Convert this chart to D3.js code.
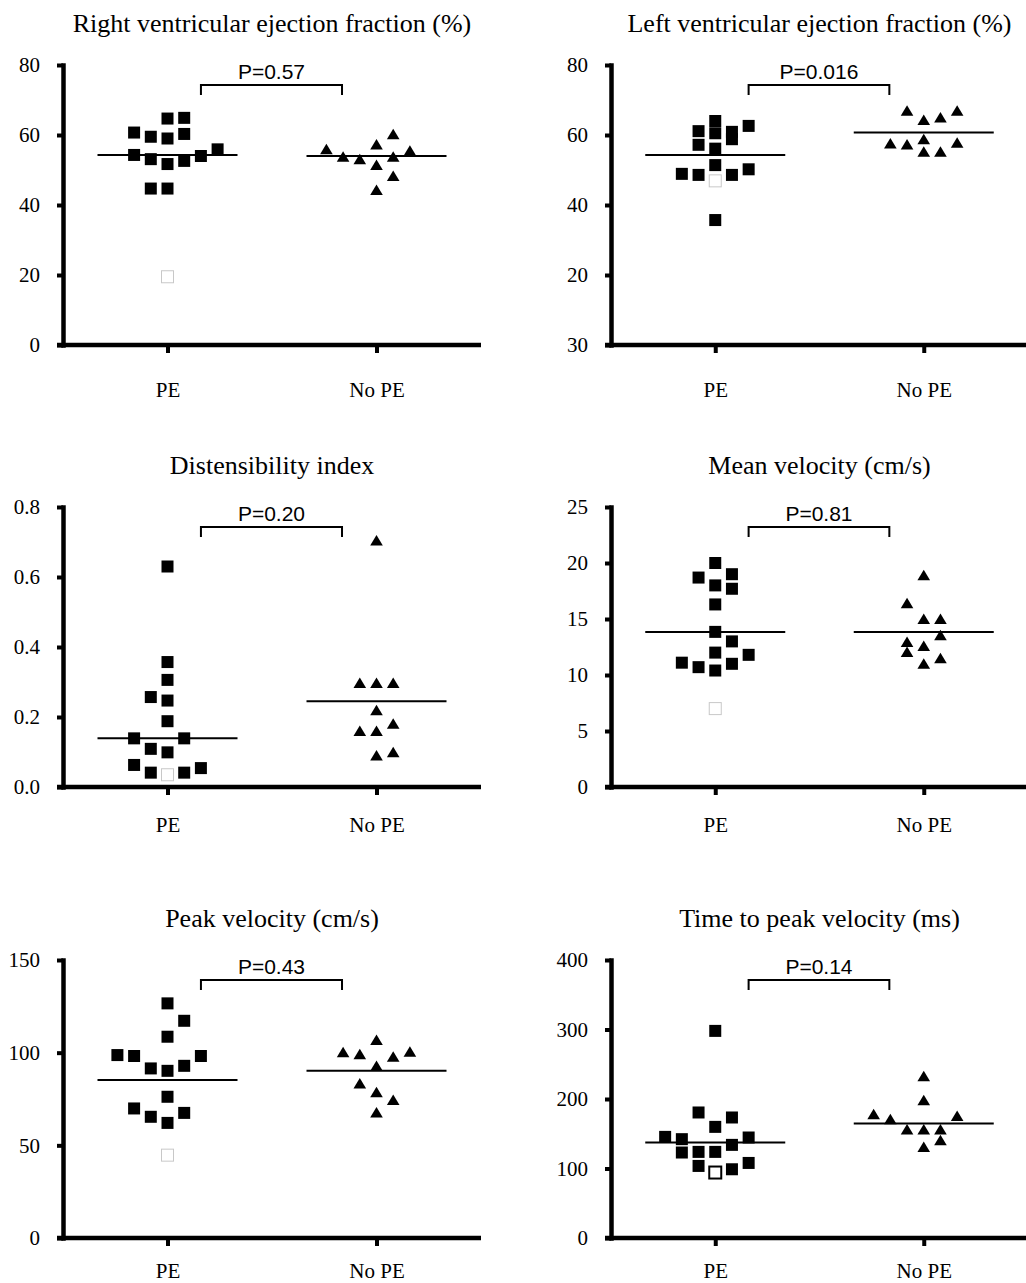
<!DOCTYPE html>
<html>
<head>
<meta charset="utf-8">
<script src="https://cdn.jsdelivr.net/npm/d3@7"></script>
<style>
	body { margin: 0; background: #fff; }
</style>
</head>
<body>
<svg id="viz"></svg>
<script>

// the data
var categories = ["PE", "No PE"];

var titles = [
	"Right ventricular ejection fraction (%)",
	"Left ventricular ejection fraction (%)",
	"Distensibility index",
	"Mean velocity (cm/s)",
	"Peak velocity (cm/s)",
	"Time to peak velocity (ms)"
];

var pLabels = ["P=0.57", "P=0.016", "P=0.20", "P=0.81", "P=0.43", "P=0.14"];

var yMax = [80, 80, 0.8, 25, 150, 400];
var yTicks = [
	[0, 20, 40, 60, 80],
	[0, 20, 40, 60, 80],
	[0, 0.2, 0.4, 0.6, 0.8],
	[0, 5, 10, 15, 20, 25],
	[0, 50, 100, 150],
	[0, 100, 200, 300, 400]
];
var yTickLabels = [
	["0", "20", "40", "60", "80"],
	["30", "20", "40", "60", "80"],
	["0.0", "0.2", "0.4", "0.6", "0.8"],
	["0", "5", "10", "15", "20", "25"],
	["0", "50", "100", "150"],
	["0", "100", "200", "300", "400"]
];

// right ventricular ejection fraction
var rvefPE = [60.7, 59.5, 64.7, 64.9, 59.0, 60.3, 54.3, 53.1, 51.7, 52.6, 54.0, 55.9, 44.7, 44.7];
var rvefPESlot = [-2, -1, 0, 1, 0, 1, -2, -1, 0, 1, 2, 3, -1, 0];
var rvefNoPE = [55.9, 53.8, 53.1, 57.3, 51.4, 44.3, 60.2, 53.8, 48.3, 55.5];
var rvefNoPESlot = [-3, -2, -1, 0, 0, 0, 1, 1, 1, 2];

// left ventricular ejection fraction
var lvefPE = [48.9, 48.6, 61.1, 57.2, 64.0, 60.5, 56.1, 51.4, 35.7, 60.9, 58.8, 48.6, 62.6, 50.2];
var lvefPESlot = [-2, -1, -1, -1, 0, 0, 0, 0, 0, 1, 1, 1, 2, 2];
var lvefNoPE = [66.9, 64.3, 65.0, 66.9, 57.6, 57.3, 58.8, 55.2, 55.2, 57.8];
var lvefNoPESlot = [-1, 0, 1, 2, -2, -1, 0, 0, 1, 2];

// distensibility index
var diPE = [0.630, 0.357, 0.306, 0.257, 0.247, 0.188, 0.139, 0.139, 0.109, 0.099, 0.063, 0.041, 0.041, 0.054];
var diPESlot = [0, 0, 0, -1, 0, 0, -2, 1, -1, 0, -2, -1, 1, 2];
var diNoPE = [0.704, 0.297, 0.297, 0.297, 0.219, 0.160, 0.160, 0.181, 0.090, 0.099];
var diNoPESlot = [0, -1, 0, 1, 0, -1, 0, 1, 0, 1];

// mean velocity
var mvPE = [20.0, 18.7, 19.0, 18.0, 17.7, 16.3, 13.85, 13.0, 12.0, 11.8, 11.1, 10.7, 11.0, 10.4];
var mvPESlot = [0, -1, 1, 0, 1, 0, 0, 1, 0, 2, -2, -1, 1, 0];
var mvNoPE = [18.9, 16.4, 15.0, 15.0, 13.55, 12.95, 12.6, 12.05, 11.5, 11.0];
var mvNoPESlot = [0, -1, 0, 1, 1, -1, 0, -1, 1, 0];

// peak velocity
var pvPE = [126.6, 117.2, 108.6, 98.7, 98.2, 98.2, 91.5, 90.2, 92.9, 76.2, 69.9, 65.4, 67.5, 62.1];
var pvPESlot = [0, 1, 0, -3, -2, 2, -1, 0, 1, 0, -2, -1, 1, 0];
var pvNoPE = [100.2, 99.1, 106.8, 97.8, 100.5, 92.8, 83.4, 78.7, 74.4, 67.7];
var pvNoPESlot = [-2, -1, 0, 1, 2, 0, -1, 0, 1, 0];

// time to peak velocity
var ttpPE = [298, 180.6, 173.4, 159.9, 145.5, 142.2, 144.6, 134, 123, 123.9, 123.9, 103.7, 98.9, 108];
var ttpPESlot = [0, -1, 1, 0, -3, -2, 2, 1, -2, -1, 0, -1, 1, 2];
var ttpNoPE = [232.9, 198.3, 178.2, 171, 175.7, 156.1, 156.1, 156.1, 140.7, 131.1];
var ttpNoPESlot = [0, 0, -3, -2, 2, -1, 0, 1, 1, 0];

// the open (excluded) PE point and the medians
var openPE = [19.5, 46.9, 0.035, 7.0, 44.7, 94.2];
var medianPE = [54.3, 54.3, 0.139, 13.85, 85.2, 137.4];
var medianNoPE = [54.0, 60.7, 0.245, 13.85, 90.2, 164.8];

var pePoints = [rvefPE, lvefPE, diPE, mvPE, pvPE, ttpPE];
var peSlots = [rvefPESlot, lvefPESlot, diPESlot, mvPESlot, pvPESlot, ttpPESlot];
var noPePoints = [rvefNoPE, lvefNoPE, diNoPE, mvNoPE, pvNoPE, ttpNoPE];
var noPeSlots = [rvefNoPESlot, lvefNoPESlot, diNoPESlot, mvNoPESlot, pvNoPESlot, ttpNoPESlot];


// set up the svg
var w = 1026;
var h = 1283;
var svg = d3.select("#viz");
svg.attr("width", w).attr("height", h);

var serif = "'Liberation Serif', 'Times New Roman', Times, serif";
var sans = "'Liberation Sans', Arial, Helvetica, sans-serif";

// layout of the grid
var cols = [{left: 63, right: 481}, {left: 611, right: 1028}];
var rows = [
	{top: 65, bottom: 345, catPad: 29},
	{top: 507, bottom: 787, catPad: 22},
	{top: 960, bottom: 1238, catPad: 17}
];
var openStroke = ["#c8c8c8", "#c8c8c8", "#c8c8c8", "#c8c8c8", "#c8c8c8", "#000"];
var slotStep = 16.7;
var halfMedian = 70;

function drawPanel(i) {
	var col = cols[i % 2];
	var row = rows[Math.floor(i / 2)];
	var g = svg.append("g");

	var x = d3.scalePoint().domain(categories).range([col.left, col.right]).padding(0.5);
	var y = d3.scaleLinear().domain([0, yMax[i]]).range([row.bottom, row.top]);
	var slot = d3.scaleLinear().domain([0, 1]).range([0, slotStep]);

	// title
	g.append("text")
		.attr("x", (col.left + col.right) / 2)
		.attr("y", row.top - 33)
		.attr("text-anchor", "middle")
		.style("font-family", serif)
		.style("font-size", "26px")
		.style("fill", "#000")
		.text(titles[i]);

	// y axis
	var yAxis = d3.axisLeft(y)
		.tickValues(yTicks[i])
		.tickSize(6)
		.tickSizeOuter(0)
		.tickPadding(17)
		.tickFormat(function(d, k) { return yTickLabels[i][k]; });
	var ya = g.append("g").attr("transform", "translate(" + col.left + ",0)").call(yAxis);
	ya.attr("font-family", null).attr("font-size", null);
	ya.select(".domain").attr("stroke-width", 4.5).attr("stroke-linecap", "square");
	ya.selectAll(".tick line").attr("stroke-width", 4);
	ya.selectAll(".tick text")
		.style("font-family", serif)
		.style("font-size", "21px");

	// x axis
	var xAxis = d3.axisBottom(x).tickSize(8).tickSizeOuter(0).tickPadding(row.catPad);
	var xa = g.append("g").attr("transform", "translate(0," + row.bottom + ")").call(xAxis);
	xa.attr("font-family", null).attr("font-size", null);
	xa.select(".domain")
		.attr("d", "M" + (col.left - 6) + ",0H" + col.right)
		.attr("stroke-width", 4.5);
	xa.selectAll(".tick line").attr("stroke-width", 4);
	xa.selectAll(".tick text")
		.style("font-family", serif)
		.style("font-size", "21px");

	// median lines
	var medians = [medianPE[i], medianNoPE[i]];
	g.selectAll("line.median")
		.data(categories)
		.enter().append("line")
		.attr("class", "median")
		.attr("x1", function(d) { return x(d) - halfMedian; })
		.attr("x2", function(d) { return x(d) + halfMedian; })
		.attr("y1", function(d, k) { return y(medians[k]); })
		.attr("y2", function(d, k) { return y(medians[k]); })
		.attr("stroke", "#000")
		.attr("stroke-width", 2);

	// PE squares
	var pe = pePoints[i].map(function(v, k) { return {v: v, s: peSlots[i][k]}; });
	g.selectAll("rect.pe")
		.data(pe)
		.enter().append("rect")
		.attr("class", "pe")
		.attr("x", function(d) { return x("PE") + slot(d.s) - 6; })
		.attr("y", function(d) { return y(d.v) - 6; })
		.attr("width", 12)
		.attr("height", 12)
		.attr("fill", "#000");

	// the open square
	g.append("rect")
		.datum(openPE[i])
		.attr("x", function(d) { return x("PE") - 6; })
		.attr("y", function(d) { return y(d) - 6; })
		.attr("width", 12)
		.attr("height", 12)
		.attr("fill", "#fff")
		.attr("stroke", openStroke[i])
		.attr("stroke-width", i === 5 ? 2 : 1);

	// No PE triangles
	var nope = noPePoints[i].map(function(v, k) { return {v: v, s: noPeSlots[i][k]}; });
	g.selectAll("path.nope")
		.data(nope)
		.enter().append("path")
		.attr("class", "nope")
		.attr("d", "M0,-5.5L6.3,5L-6.3,5Z")
		.attr("transform", function(d) {
			return "translate(" + (x("No PE") + slot(d.s)) + "," + y(d.v) + ")";
		})
		.attr("fill", "#000");

	// bracket with p value
	var step = x.step();
	var bx1 = x("PE") + step * 0.16;
	var bx2 = x("No PE") - step * 0.165;
	var by = row.top + 20;
	g.append("path")
		.attr("d", "M" + bx1 + "," + (by + 10) + "V" + by + "H" + bx2 + "V" + (by + 10))
		.attr("fill", "none")
		.attr("stroke", "#000")
		.attr("stroke-width", 2);
	g.append("text")
		.attr("x", (bx1 + bx2) / 2)
		.attr("y", row.top + 14)
		.attr("text-anchor", "middle")
		.style("font-family", sans)
		.style("font-size", "21px")
		.style("fill", "#000")
		.text(pLabels[i]);
}

for (var i = 0; i < 6; i++) {
	drawPanel(i);
}

</script>
</body>
</html>
